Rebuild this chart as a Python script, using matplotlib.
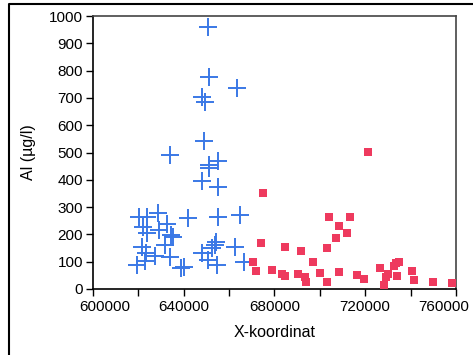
import matplotlib
matplotlib.use("Agg")
import matplotlib.pyplot as plt
from matplotlib.lines import Line2D
from matplotlib.transforms import ScaledTranslation

plt.rcParams['font.family'] = ['Liberation Sans', 'DejaVu Sans']

blue_x = [650700, 651400, 663500, 648000, 649400, 649200, 634100, 651300, 655400, 651400,
          648000, 655400, 620500, 624100, 628700, 641900, 655400, 664700, 622000, 623900,
          629400, 632600, 634300, 635300, 621900, 632000, 623500, 627500, 634100, 623100,
          619400, 638700, 640200, 648000, 650600, 653700, 652500, 654300, 662700, 654800,
          666800]
blue_y = [960, 777, 736, 704, 686, 542, 492, 454, 469, 442,
          397, 375, 265, 265, 277, 259, 265, 271, 228, 204,
          217, 238, 198, 190, 154, 160, 131, 121, 116, 104,
          88, 77, 82, 132, 106, 161, 150, 172, 153, 88,
          99]

red_x = [675200, 674000, 684800, 670700, 672000, 678800, 683200, 684600, 691900, 690600,
         693300, 694000, 697200, 700200, 703300, 703300, 704000, 713300, 708600, 712000,
         707200, 708300, 716600, 719300, 721200, 726600, 729900, 729300, 728500, 732500,
         733600, 735100, 734000, 740600, 741300, 750000, 758400]
red_y = [353, 170, 154, 99, 66, 71, 55, 49, 138, 54,
         44, 27, 99, 60, 149, 27, 265, 265, 231, 204,
         188, 62, 50, 38, 503, 77, 55, 43, 16, 84,
         94, 99, 49, 66, 32, 27, 21]

x_major = [600000, 640000, 680000, 720000, 760000]
x_minor = [620000, 660000, 700000, 740000]
y_ticks = [0, 100, 200, 300, 400, 500, 600, 700, 800, 900, 1000]

W, H = 473, 355
fig = plt.figure(figsize=(W / 100, H / 100), dpi=100)
ax = fig.add_axes([92.7 / W, 1 - 289 / H, (456 - 92.7) / W, (289 - 16) / H])

ax.plot(blue_x, blue_y, linestyle='none', marker='+', markersize=12.5,
        markeredgewidth=1.4, color='#3a78e6', zorder=3)
ax.plot(red_x, red_y, linestyle='none', marker='s', markersize=6,
        markeredgewidth=0, color='#ee3a5e', zorder=3)

ax.set_xlim(600000, 760000)
ax.set_ylim(0, 1000)
ax.set_xticks(x_major)
ax.set_xticks(x_minor, minor=True)
ax.set_xticklabels([str(v) for v in x_major])
ax.set_yticks(y_ticks)
ax.set_yticklabels([str(v) for v in y_ticks])

ax.tick_params(axis='both', which='both', direction='out', length=5, width=1,
               labelsize=11, color='black')
ax.tick_params(axis='y', pad=2)
ax.tick_params(axis='x', pad=3)

for s in ['left', 'bottom']:
    ax.spines[s].set_color('black')
    ax.spines[s].set_linewidth(1.2)
for s in ['top', 'right']:
    ax.spines[s].set_color('#444444')
    ax.spines[s].set_linewidth(1.2)

ax.set_xlabel('X-koordinat', fontsize=11.5, labelpad=8)
ax.set_ylabel('Al (µg/l)', fontsize=11.5, labelpad=9)

# shift the end x tick labels inward, like the reference
labels = ax.get_xticklabels()
px = 72 / 100.0  # points per pixel
labels[0].set_transform(labels[0].get_transform() +
                        ScaledTranslation(12 * px / 72, 0, fig.dpi_scale_trans))
labels[-1].set_transform(labels[-1].get_transform() +
                         ScaledTranslation(-12 * px / 72, 0, fig.dpi_scale_trans))

# outer frame
fx = 8.5 / W
fy = 1 - 4 / H
fig.add_artist(Line2D([fx, fx, 1.0], [0.0, fy, fy], transform=fig.transFigure,
                      color='black', linewidth=1.5))

fig.savefig('out.png', dpi=100)
